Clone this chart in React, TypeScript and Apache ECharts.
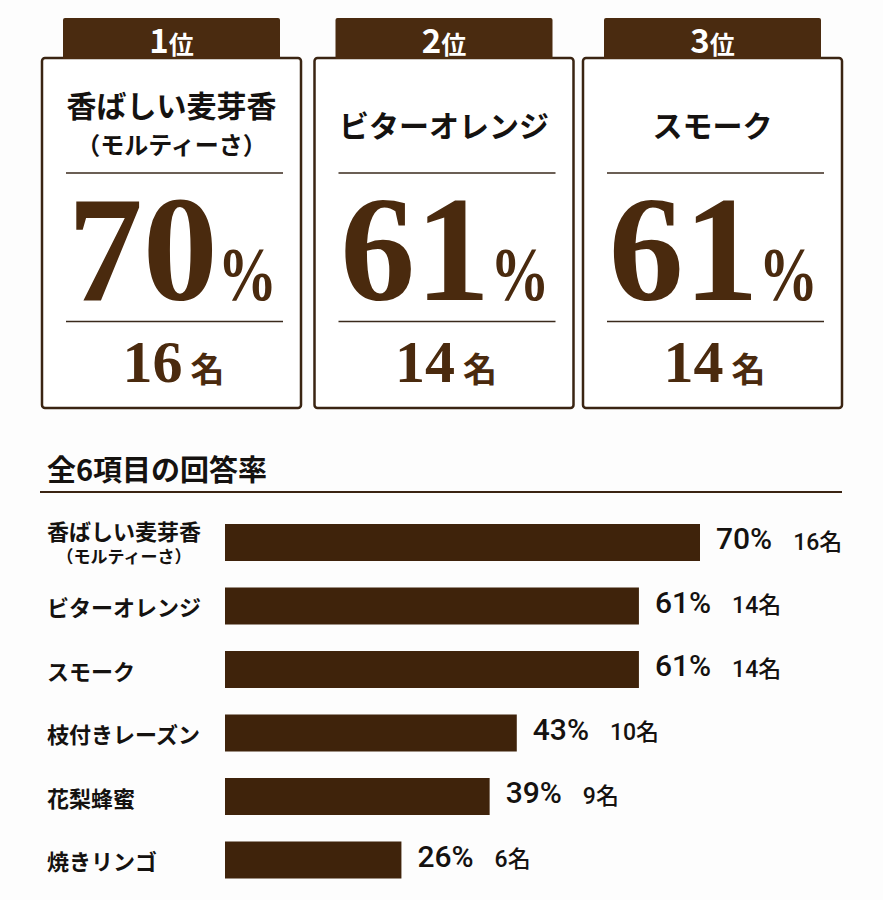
import React, { useEffect, useRef } from "react";
import * as echarts from "echarts";

const categories = ["香ばしい麦芽香", "ビターオレンジ", "スモーク", "枝付きレーズン", "花梨蜂蜜", "焼きリンゴ"];
const subLabels = ["（モルティーさ）", "", "", "", "", ""];
const percents = [70, 61, 61, 43, 39, 26];
const counts = [16, 14, 14, 10, 9, 6];
const ranks = ["1", "2", "3"];
const rankSuffix = "位";
const countSuffix = "名";
const percentSign = "%";
const sectionTitle = "全6項目の回答率";

const W = 883;
const H = 900;
const BAR = "#3f230b";
const TAB = "#4a2b10";
const BORDER = "#3a2412";
const NUM = "#4a2a0e";
const INK = "#151210";
const JP = '"Noto Sans CJK JP", "Noto Sans", sans-serif';
const SERIF = '"Liberation Serif", "DejaVu Serif", serif';
const SERIF_CENTRAL = 0.3375;

const cardLefts = [42, 314.5, 583];
const cardW = 259;

const BIG_F = 150;
const PCT_F = 76;
const PCT_SX = 0.78;
const CNT_F = 60;
const MEI_F = 34;

function measure(text: string, font: string): number {
  const c = document.createElement("canvas");
  const ctx = c.getContext("2d");
  if (!ctx) return text.length * 0.5 * BIG_F;
  ctx.font = font;
  return ctx.measureText(text).width;
}

function buildCards(): any[] {
  const els: any[] = [];
  for (let i = 0; i < 3; i++) {
    const left = cardLefts[i];
    const cx = left + cardW / 2;
    els.push({
      type: "rect",
      shape: { x: left, y: 58, width: cardW, height: 350, r: 3 },
      style: { fill: "#ffffff", stroke: BORDER, lineWidth: 2.5 },
    });
    els.push({
      type: "rect",
      shape: { x: left + 21, y: 18, width: 217, height: 41, r: [2, 2, 0, 0] },
      style: { fill: TAB },
    });
    els.push({
      type: "text",
      x: cx,
      y: 55,
      style: {
        text: `{d|${ranks[i]}}{u|${rankSuffix}}`,
        align: "center",
        verticalAlign: "bottom",
        rich: {
          d: { fontSize: 33, fontWeight: "bold", fontFamily: JP, fill: "#ffffff", lineHeight: 30, verticalAlign: "bottom" },
          u: { fontSize: 25, fontWeight: "bold", fontFamily: JP, fill: "#ffffff", lineHeight: 25, verticalAlign: "bottom" },
        },
      },
    });
    if (subLabels[i]) {
      els.push({
        type: "text", x: cx, y: 104,
        style: { text: categories[i], align: "center", verticalAlign: "middle", fontSize: 30, fontWeight: "bold", fontFamily: JP, fill: INK },
      });
      els.push({
        type: "text", x: cx, y: 143,
        style: { text: subLabels[i], align: "center", verticalAlign: "middle", fontSize: 24, fontWeight: "bold", fontFamily: JP, fill: INK },
      });
    } else {
      els.push({
        type: "text", x: cx, y: 124,
        style: { text: categories[i], align: "center", verticalAlign: "middle", fontSize: 30, fontWeight: "bold", fontFamily: JP, fill: INK },
      });
    }
    els.push({
      type: "line",
      shape: { x1: left + 24, y1: 173, x2: left + 241, y2: 173 },
      style: { stroke: "#3a2a1c", lineWidth: 1.5 },
    });
    els.push({
      type: "line",
      shape: { x1: left + 24, y1: 321.5, x2: left + 241, y2: 321.5 },
      style: { stroke: "#3a2a1c", lineWidth: 1.5 },
    });
    // big percentage
    const numText = String(percents[i]);
    const wN = measure(numText, `bold ${BIG_F}px ${SERIF}`);
    const wP = measure(percentSign, `bold ${PCT_F}px ${SERIF}`) * PCT_SX;
    const start = cx + 1 - (wN + wP) / 2;
    els.push({
      type: "text",
      x: start,
      y: 300 - SERIF_CENTRAL * BIG_F,
      style: { text: numText, align: "left", verticalAlign: "middle", fontSize: BIG_F, fontWeight: "bold", fontFamily: SERIF, fill: NUM },
    });
    els.push({
      type: "text",
      x: start + wN,
      y: 300 - SERIF_CENTRAL * PCT_F,
      scaleX: PCT_SX,
      style: { text: percentSign, align: "left", verticalAlign: "middle", fontSize: PCT_F, fontWeight: "bold", fontFamily: SERIF, fill: NUM },
    });
    // count
    const cntText = String(counts[i]);
    const wC = measure(cntText, `bold ${CNT_F}px ${SERIF}`);
    const wM = measure(countSuffix, `bold ${MEI_F}px ${JP}`);
    const gap = 8;
    const cStart = cx + 2 - (wC + gap + wM) / 2;
    els.push({
      type: "text",
      x: cStart,
      y: 382 - SERIF_CENTRAL * CNT_F,
      style: { text: cntText, align: "left", verticalAlign: "middle", fontSize: CNT_F, fontWeight: "bold", fontFamily: SERIF, fill: NUM },
    });
    els.push({
      type: "text",
      x: cStart + wC + gap,
      y: 367,
      style: { text: countSuffix, align: "left", verticalAlign: "middle", fontSize: MEI_F, fontWeight: "bold", fontFamily: JP, fill: NUM },
    });
  }
  els.push({
    type: "text", x: 47, y: 468,
    style: { text: sectionTitle, align: "left", verticalAlign: "middle", fontSize: 29, fontWeight: "bold", fontFamily: JP, fill: INK },
  });
  els.push({
    type: "line",
    shape: { x1: 40, y1: 492, x2: 842, y2: 492 },
    style: { stroke: BORDER, lineWidth: 2 },
  });
  return els;
}

export default function App() {
  const ref = useRef<HTMLDivElement>(null);
  useEffect(() => {
    if (!ref.current) return;
    const chart = echarts.init(ref.current, undefined, { renderer: "svg" });
    const xMax = 80;
    const gridLeft = 225;
    const gridWidth = (475 / 70) * xMax;
    chart.setOption({
      animation: false,
      backgroundColor: "#fdfdfd",
      graphic: { elements: buildCards() },
      grid: { left: gridLeft, width: gridWidth, top: 510.75, height: 381, containLabel: false },
      xAxis: { type: "value", min: 0, max: xMax, show: false },
      yAxis: {
        type: "category",
        data: categories,
        inverse: true,
        axisLine: { show: false },
        axisTick: { show: false },
        splitLine: { show: false },
        axisLabel: {
          align: "left",
          margin: gridLeft - 47,
          formatter: (v: string, i: number) =>
            subLabels[i] ? `{a|${v}}\n{b|${subLabels[i]}}` : `{a|${v}}`,
          rich: {
            a: { fontSize: 22, fontWeight: "bold", fontFamily: JP, color: INK, lineHeight: 25 },
            b: { fontSize: 17, fontWeight: "bold", fontFamily: JP, color: INK, lineHeight: 25, align: "center" },
          },
        },
      },
      series: [
        {
          type: "bar",
          data: percents,
          barWidth: 37,
          itemStyle: { color: BAR },
          label: {
            show: true,
            position: "right",
            distance: 16,
            offset: [0, -4],
            formatter: (p: any) => `{p|${p.value}%}{n|${counts[p.dataIndex]}${countSuffix}}`,
            rich: {
              p: { fontSize: 30, fontWeight: 500, fontFamily: 'Roboto, ' + JP, color: INK, verticalAlign: "bottom", lineHeight: 30 },
              n: { fontSize: 23, fontWeight: 500, fontFamily: 'Roboto, ' + JP, color: INK, verticalAlign: "bottom", lineHeight: 24, padding: [0, 0, 0, 21] },
            },
          },
        },
      ],
    });
    return () => chart.dispose();
  }, []);
  return <div ref={ref} style={{ position: "absolute", left: 0, top: 0, width: W, height: H }} />;
}
